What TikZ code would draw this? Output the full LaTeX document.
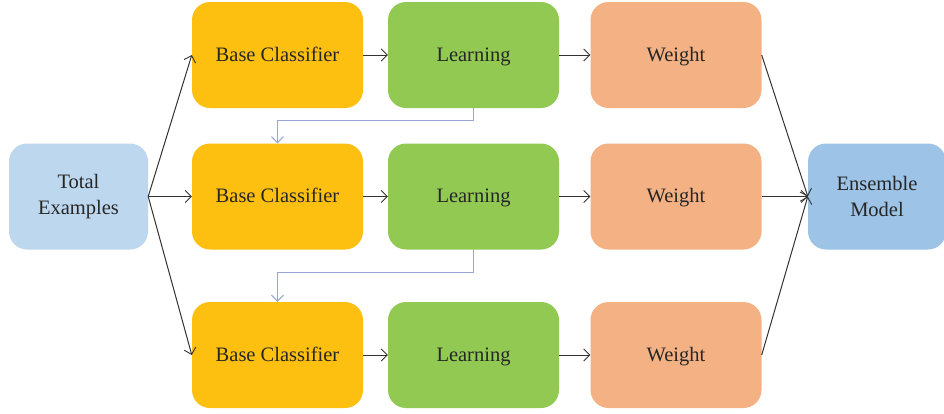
\documentclass[tikz,border=0pt]{standalone}
\usepackage{fontspec}
\setmainfont{Liberation Serif}
\usetikzlibrary{arrows.meta}
\definecolor{cyellow}{HTML}{FDC010}
\definecolor{cgreen}{HTML}{92C953}
\definecolor{corange}{HTML}{F4B183}
\definecolor{clight}{HTML}{BDD7EE}
\definecolor{cblue}{HTML}{9DC3E6}
\definecolor{cline}{HTML}{333333}
\definecolor{cback}{HTML}{97A6D6}
\tikzset{
  box/.style={rounded corners=18pt, minimum height=106pt, inner sep=0pt,
    text=black!85, font=\fontsize{20.5}{26}\selectfont},
  widebox/.style={box, minimum width=171pt, text height=14pt, text depth=2pt},
  sidebox/.style={box, minimum width=139pt, align=center},
  flow/.style={draw=cline, line width=1pt, -{Straight Barb[length=6pt,width=12pt,line width=0.9pt]}},
  back/.style={draw=cback, line width=1.3pt, -{Straight Barb[length=6pt,width=12pt,line width=1pt]}}
}
\begin{document}
\begin{tikzpicture}[x=1pt,y=-1pt]
\useasboundingbox (0,0) rectangle (944,413);
% input and output
\node[sidebox, fill=clight] (tot) at (78.5,196.5) {Total\\Examples};
\node[sidebox, fill=cblue, minimum width=138pt] (ens) at (877,196.5) {Ensemble\\Model};
% three rows of classifier, learning and weight
\foreach \r/\y in {1/55, 2/196.5, 3/355}{
  \node[widebox, fill=cyellow] (b\r) at (277.5,\y) {Base Classifier};
  \node[widebox, fill=cgreen] (l\r) at (473.5,\y) {Learning};
  \node[widebox, fill=corange] (w\r) at (676,\y) {Weight};
  \draw[flow] (b\r.east) -- (l\r.west);
  \draw[flow] (l\r.east) -- (w\r.west);
}
% fan out and fan in
\coordinate (src) at (tot.east);
\foreach \r in {1,2,3}{
  \draw[flow] (src) -- (b\r.west);
  \draw[flow] (w\r.east) -- (ens.west);
}
% feedback between rows
\draw[back] (l1.south) -- ++(0,12) -| (b2.north);
\draw[back] (l2.south) -- ++(0,23) -| (b3.north);
\end{tikzpicture}
\end{document}
